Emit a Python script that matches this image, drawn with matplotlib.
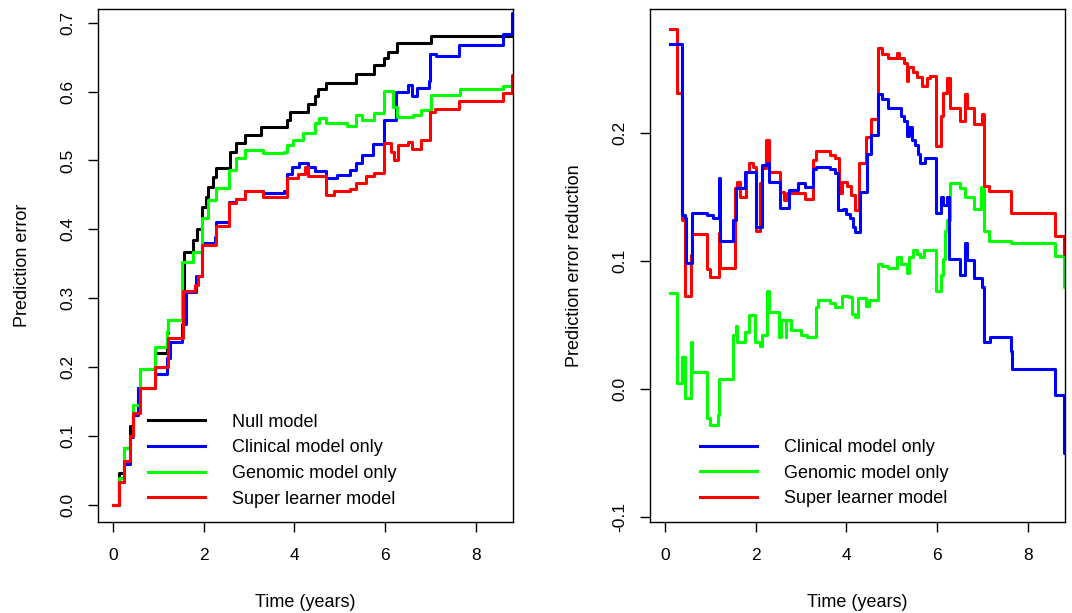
import matplotlib
matplotlib.use('Agg')
import matplotlib.pyplot as plt

plt.rcParams['font.family'] = ['Liberation Sans', 'DejaVu Sans']
plt.rcParams['axes.unicode_minus'] = False

# Left panel: prediction error curves (step functions)
null_t = [0, 0.13, 0.25, 0.38, 0.44, 0.55, 0.60, 0.92, 1.19, 1.22, 1.52, 1.56, 1.77, 1.85,
          1.97, 2.05, 2.10, 2.20, 2.28, 2.57, 2.72, 2.92, 3.27, 3.84, 3.91, 4.29, 4.45, 4.53,
          4.69, 5.35, 5.75, 5.97, 6.07, 6.27, 7.02, 8.82]
null_v = [0, 0.047, 0.083, 0.114, 0.132, 0.170, 0.198, 0.221, 0.249, 0.269, 0.310, 0.367, 0.384, 0.400,
          0.432, 0.447, 0.461, 0.476, 0.489, 0.513, 0.525, 0.537, 0.548, 0.558, 0.570, 0.582, 0.593, 0.604,
          0.613, 0.625, 0.638, 0.649, 0.658, 0.670, 0.680, 0.680]

clin_t = [0, 0.13, 0.25, 0.38, 0.44, 0.55, 0.93, 1.19, 1.25, 1.52, 1.60, 1.83, 1.97, 2.24, 2.28,
          2.55, 2.72, 2.92, 3.31, 3.78, 3.84, 3.95, 4.10, 4.29, 4.45, 4.69, 4.93, 5.22, 5.35, 5.50,
          5.73, 5.97, 6.25, 6.50, 6.60, 6.70, 6.96, 6.99, 7.12, 7.63, 8.59, 8.81, 8.82]
clin_v = [0, 0.033, 0.060, 0.098, 0.130, 0.170, 0.190, 0.214, 0.237, 0.263, 0.309, 0.333, 0.380, 0.389, 0.410,
          0.440, 0.444, 0.455, 0.453, 0.455, 0.481, 0.491, 0.497, 0.491, 0.484, 0.474, 0.479, 0.486, 0.496, 0.508,
          0.524, 0.559, 0.600, 0.610, 0.593, 0.605, 0.616, 0.654, 0.651, 0.668, 0.683, 0.714, 0.714]

geno_t = [0, 0.13, 0.25, 0.38, 0.44, 0.60, 0.92, 1.19, 1.22, 1.52, 1.77, 1.97, 2.09, 2.28, 2.55,
          2.72, 2.92, 3.31, 3.78, 3.84, 3.97, 4.18, 4.45, 4.54, 4.69, 5.15, 5.37, 5.50, 5.75, 5.97,
          6.18, 6.27, 6.62, 6.80, 7.02, 7.65, 8.60, 8.82]
geno_v = [0, 0.039, 0.083, 0.100, 0.145, 0.198, 0.229, 0.253, 0.269, 0.352, 0.367, 0.416, 0.442, 0.460, 0.486,
          0.503, 0.515, 0.511, 0.513, 0.523, 0.530, 0.540, 0.554, 0.562, 0.554, 0.550, 0.566, 0.558, 0.569, 0.601,
          0.578, 0.563, 0.566, 0.573, 0.595, 0.603, 0.608, 0.608]

super_t = [0, 0.13, 0.25, 0.38, 0.44, 0.60, 0.92, 1.22, 1.55, 1.80, 1.88, 1.97, 2.27, 2.55, 2.72,
           2.92, 3.31, 3.84, 4.07, 4.24, 4.29, 4.69, 4.88, 5.22, 5.35, 5.57, 5.75, 5.97, 6.14, 6.19,
           6.28, 6.50, 6.60, 6.80, 6.99, 7.10, 7.63, 8.59, 8.81, 8.82]
super_v = [0, 0.033, 0.064, 0.100, 0.134, 0.170, 0.200, 0.243, 0.311, 0.319, 0.332, 0.378, 0.405, 0.438, 0.444,
           0.456, 0.447, 0.474, 0.480, 0.491, 0.477, 0.450, 0.455, 0.458, 0.468, 0.477, 0.482, 0.525, 0.513, 0.500,
           0.522, 0.527, 0.516, 0.530, 0.571, 0.574, 0.586, 0.598, 0.624, 0.624]

# Right panel: prediction error reduction relative to null model
rclin_t = [0.11, 0.38, 0.44, 0.47, 0.60, 0.93, 1.06, 1.19, 1.22, 1.50, 1.57, 1.76, 2.01, 2.15, 2.25,
           2.30, 2.54, 2.74, 2.94, 3.09, 3.27, 3.34, 3.64, 3.75, 3.82, 3.93, 4.00, 4.08, 4.15, 4.20,
           4.30, 4.46, 4.54, 4.70, 4.79, 4.91, 5.20, 5.27, 5.33, 5.39, 5.45, 5.52, 5.58, 5.63, 5.74,
           5.98, 6.08, 6.14, 6.21, 6.27, 6.51, 6.62, 6.66, 6.81, 7.00, 7.03, 7.16, 7.63, 7.66, 8.60,
           8.81, 8.82]
rclin_v = [0.270, 0.136, 0.134, 0.099, 0.138, 0.136, 0.134, 0.165, 0.116, 0.132, 0.157, 0.170, 0.127, 0.175, 0.177,
           0.162, 0.142, 0.156, 0.161, 0.158, 0.172, 0.174, 0.172, 0.169, 0.140, 0.141, 0.137, 0.134, 0.127, 0.123,
           0.154, 0.184, 0.199, 0.231, 0.227, 0.220, 0.214, 0.210, 0.198, 0.205, 0.195, 0.191, 0.184, 0.177, 0.181,
           0.138, 0.150, 0.144, 0.150, 0.102, 0.089, 0.114, 0.101, 0.087, 0.080, 0.037, 0.041, 0.030, 0.016, -0.005,
           -0.050, -0.050]

rgeno_t = [0.11, 0.26, 0.38, 0.44, 0.57, 0.60, 0.93, 1.00, 1.16, 1.19, 1.50, 1.57, 1.60, 1.76, 1.86,
           1.98, 2.10, 2.13, 2.25, 2.30, 2.52, 2.55, 2.66, 2.68, 2.79, 3.00, 3.13, 3.33, 3.38, 3.64,
           3.75, 3.90, 4.06, 4.12, 4.19, 4.26, 4.44, 4.50, 4.70, 4.79, 4.91, 5.12, 5.20, 5.33, 5.38,
           5.48, 5.55, 5.63, 5.71, 5.98, 6.08, 6.14, 6.17, 6.21, 6.28, 6.51, 6.62, 6.81, 6.98, 7.03,
           7.14, 7.63, 8.60, 8.81, 8.82]
rgeno_v = [0.075, 0.005, 0.025, -0.007, 0.037, 0.013, -0.023, -0.028, -0.020, 0.008, 0.042, 0.049, 0.037, 0.045, 0.058,
           0.037, 0.034, 0.042, 0.077, 0.060, 0.041, 0.054, 0.041, 0.054, 0.046, 0.042, 0.041, 0.064, 0.070, 0.067,
           0.064, 0.073, 0.072, 0.059, 0.056, 0.071, 0.065, 0.070, 0.098, 0.096, 0.095, 0.103, 0.098, 0.091, 0.103,
           0.109, 0.106, 0.103, 0.109, 0.077, 0.089, 0.102, 0.124, 0.132, 0.161, 0.157, 0.150, 0.141, 0.158, 0.124,
           0.116, 0.114, 0.104, 0.080, 0.080]

rsup_t = [0.11, 0.26, 0.38, 0.44, 0.57, 0.60, 0.93, 1.00, 1.19, 1.22, 1.55, 1.58, 1.65, 1.79, 1.86,
          1.95, 2.01, 2.10, 2.15, 2.23, 2.30, 2.54, 2.62, 2.69, 3.09, 3.27, 3.33, 3.64, 3.75, 3.84,
          3.90, 4.02, 4.10, 4.19, 4.28, 4.44, 4.54, 4.70, 4.79, 4.91, 5.12, 5.16, 5.27, 5.33, 5.37,
          5.46, 5.56, 5.67, 5.78, 5.85, 5.98, 6.08, 6.14, 6.21, 6.28, 6.51, 6.62, 6.66, 6.81, 7.00,
          7.03, 7.14, 7.63, 8.60, 8.81, 8.82]
rsup_v = [0.282, 0.232, 0.132, 0.073, 0.105, 0.121, 0.094, 0.088, 0.122, 0.095, 0.157, 0.162, 0.150, 0.170, 0.177,
          0.174, 0.124, 0.161, 0.173, 0.195, 0.170, 0.154, 0.148, 0.153, 0.149, 0.179, 0.186, 0.183, 0.181, 0.153,
          0.162, 0.159, 0.152, 0.140, 0.177, 0.197, 0.211, 0.267, 0.262, 0.259, 0.263, 0.259, 0.255, 0.241, 0.252,
          0.248, 0.244, 0.237, 0.243, 0.245, 0.190, 0.214, 0.232, 0.243, 0.220, 0.210, 0.231, 0.220, 0.207, 0.215,
          0.159, 0.155, 0.138, 0.120, 0.106, 0.106]

LW = 2.2
TICK_FS = 12.5
LABEL_FS = 13


def style_axes(ax, xlim, ylim, yticks, ylabel):
	ax.set_xlim(*xlim)
	ax.set_ylim(*ylim)
	ax.set_xticks([0, 2, 4, 6, 8])
	ax.set_yticks(yticks)
	ax.set_yticklabels(['%.1f' % y for y in yticks])
	for s in ax.spines.values():
		s.set_linewidth(1.0)
	ax.tick_params(direction='out', length=7.5, width=1.0, labelsize=TICK_FS)
	ax.tick_params(axis='x', pad=11)
	ax.tick_params(axis='y', pad=8.5)
	plt.setp(ax.get_yticklabels(), rotation=90, va='center')
	ax.set_xlabel('Time (years)', fontsize=LABEL_FS)
	ax.xaxis.set_label_coords(0.5, -0.140)
	ax.set_ylabel(ylabel, fontsize=LABEL_FS, va='center')
	ax.yaxis.set_label_coords(-0.183, 0.5)


def add_legend(ax, handles, labels, top):
	ax.legend(handles, labels, loc='upper left', bbox_to_anchor=(0.12, top), frameon=False,
	          fontsize=LABEL_FS, handlelength=3.16, handletextpad=1.5, labelspacing=0.48,
	          borderpad=0, borderaxespad=0)


fig = plt.figure(figsize=(10.72, 6.13), dpi=100)
ax1 = fig.add_axes([0.0914, 0.1484, 0.3871, 0.8377])
ax2 = fig.add_axes([0.6063, 0.1484, 0.3871, 0.8377])

l_null, = ax1.plot(null_t, null_v, drawstyle='steps-post', color='black', lw=LW)
l_clin, = ax1.plot(clin_t, clin_v, drawstyle='steps-post', color='#0000FF', lw=LW)
l_geno, = ax1.plot(geno_t, geno_v, drawstyle='steps-post', color='#00FF00', lw=LW)
l_sup, = ax1.plot(super_t, super_v, drawstyle='steps-post', color='#FF0000', lw=LW)
style_axes(ax1, (-0.33, 8.82), (-0.0247, 0.7205), [0, 0.1, 0.2, 0.3, 0.4, 0.5, 0.6, 0.7],
           'Prediction error')
add_legend(ax1, [l_null, l_clin, l_geno, l_sup],
           ['Null model', 'Clinical model only', 'Genomic model only', 'Super learner model'], 0.211)

r_geno, = ax2.plot(rgeno_t, rgeno_v, drawstyle='steps-post', color='#00FF00', lw=LW)
r_sup, = ax2.plot(rsup_t, rsup_v, drawstyle='steps-post', color='#FF0000', lw=LW)
r_clin, = ax2.plot(rclin_t, rclin_v, drawstyle='steps-post', color='#0000FF', lw=LW)
style_axes(ax2, (-0.33, 8.82), (-0.104, 0.2977), [-0.1, 0.0, 0.1, 0.2],
           'Prediction error reduction')
add_legend(ax2, [r_clin, r_geno, r_sup],
           ['Clinical model only', 'Genomic model only', 'Super learner model'], 0.162)

plt.savefig('out.png', dpi=100)
